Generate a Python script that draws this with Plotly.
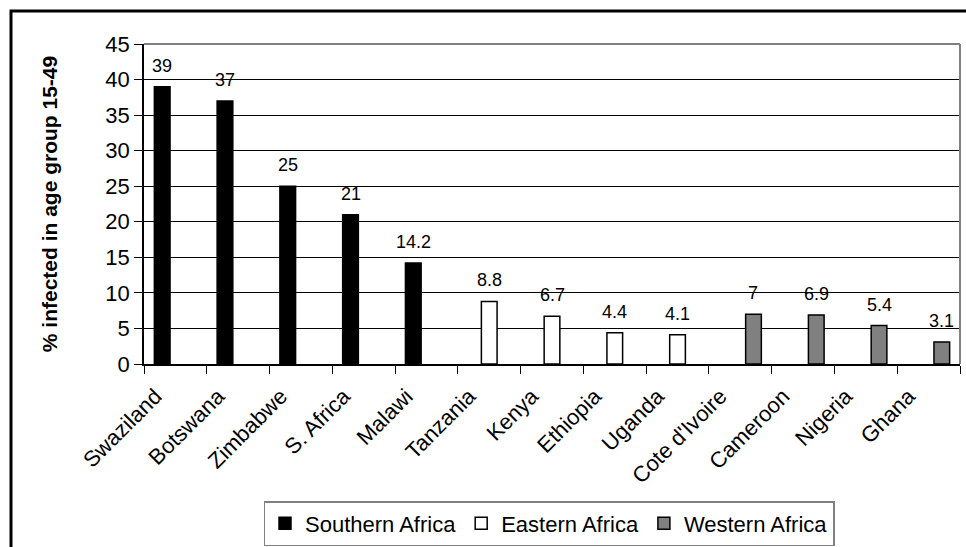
import plotly.graph_objects as go

# HIV prevalence among adults aged 15-49, by country and region
countries = ["Swaziland", "Botswana", "Zimbabwe", "S. Africa", "Malawi",
             "Tanzania", "Kenya", "Ethiopia", "Uganda",
             "Cote d'Ivoire", "Cameroon", "Nigeria", "Ghana"]

southern_countries = ["Swaziland", "Botswana", "Zimbabwe", "S. Africa", "Malawi"]
southern_values = [39, 37, 25, 21, 14.2]

eastern_countries = ["Tanzania", "Kenya", "Ethiopia", "Uganda"]
eastern_values = [8.8, 6.7, 4.4, 4.1]

western_countries = ["Cote d'Ivoire", "Cameroon", "Nigeria", "Ghana"]
western_values = [7, 6.9, 5.4, 3.1]

y_ticks = list(range(0, 50, 5))

FONT = "Arial, Liberation Sans, sans-serif"
W, H = 966, 547
ML, MR, MT, MB = 144, 6, 44, 183
PW, PH = W - ML - MR, H - MT - MB

BAR_W = 0.25
series = [
    ("Southern Africa", southern_countries, southern_values, "#000000", -0.21),
    ("Eastern Africa", eastern_countries, eastern_values, "#ffffff", 0.0),
    ("Western Africa", western_countries, western_values, "#808080", 0.21),
]

fig = go.Figure()
annotations = []
for name, cats, vals, color, center in series:
    fig.add_trace(go.Bar(
        name=name, x=cats, y=vals,
        width=BAR_W, offset=center - BAR_W / 2,
        marker=dict(color=color, line=dict(color="#000000", width=1.5)),
    ))
    for c, v in zip(cats, vals):
        annotations.append(dict(
            x=countries.index(c) + center, y=v, xref="x", yref="y",
            text=f"{v:g}", showarrow=False, yanchor="middle", yshift=21,
            font=dict(family=FONT, size=18, color="#000000"),
        ))


def px_x(p):
    return (p - ML) / PW


def px_y(p):
    return (H - MB - p) / PH


shapes = [
    # outer chart frame
    dict(type="rect", xref="paper", yref="paper",
         x0=px_x(11), x1=px_x(990), y0=px_y(570), y1=px_y(11),
         line=dict(color="#000000", width=3), layer="below"),
    # plot-area frame (top and right edges)
    dict(type="line", xref="paper", yref="paper", x0=0, x1=1, y0=1, y1=1,
         line=dict(color="#808080", width=2)),
    dict(type="line", xref="paper", yref="paper", x0=1, x1=1, y0=0, y1=1,
         line=dict(color="#808080", width=2)),
]

fig.update_layout(
    width=W, height=H,
    margin=dict(l=ML, r=MR, t=MT, b=MB, autoexpand=False),
    paper_bgcolor="#ffffff", plot_bgcolor="#ffffff",
    barmode="overlay",
    font=dict(family=FONT, size=22, color="#000000"),
    showlegend=True,
    legend=dict(
        orientation="h", x=px_x(549), xanchor="center",
        y=px_y(501), yanchor="top",
        bordercolor="#808080", borderwidth=1.5,
        font=dict(family=FONT, size=22, color="#000000"),
        itemwidth=30, tracegroupgap=0,
    ),
    annotations=annotations,
    shapes=shapes,
)

fig.update_xaxes(
    type="category", categoryorder="array", categoryarray=countries,
    range=[-0.5, len(countries) - 0.5], automargin=False,
    tickangle=-45, tickfont=dict(family=FONT, size=22),
    ticklabelshift=-20, ticklabelstandoff=9,
    showline=True, linecolor="#000000", linewidth=1.5,
    ticks="outside", tickson="boundaries", ticklen=8, tickcolor="#000000",
    showgrid=False, zeroline=False,
)

fig.update_yaxes(
    range=[0, 45], tickvals=y_ticks, automargin=False,
    tickfont=dict(family=FONT, size=22),
    showline=True, linecolor="#000000", linewidth=1.5,
    ticks="outside", ticklen=8, tickcolor="#000000",
    showgrid=True, gridcolor="#000000", gridwidth=1,
    zeroline=False,
    title=dict(text="<b>% infected in age group 15-49</b>",
               font=dict(family=FONT, size=21), standoff=42),
)

fig.write_html("out.html")
